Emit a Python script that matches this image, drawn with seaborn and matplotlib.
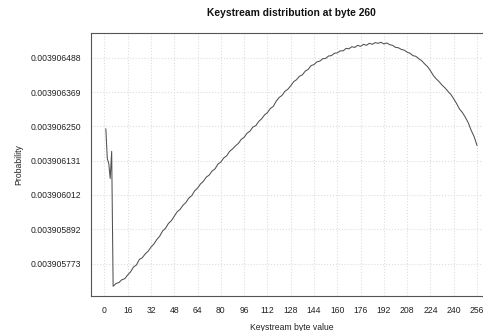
import numpy as np
import pandas as pd
import matplotlib
matplotlib.use('Agg')
import matplotlib.pyplot as plt
import seaborn as sns

# keystream byte values (R style, 1..256) and probability offsets from 1/256,
# read off the picture in units of 2^-23
byte_values = [1, 2, 3, 4, 5, 6] + list(range(8, 257, 2))
offsets = [-0.07, -0.94, -1.08, -1.52, -0.73, -4.66,
           -4.58, -4.55, -4.47, -4.44, -4.33, -4.24, -4.10, -4.04, -3.88, -3.83,
           -3.72, -3.64, -3.52, -3.43, -3.30, -3.20, -3.05, -2.97, -2.83, -2.75,
           -2.62, -2.49, -2.42, -2.30, -2.22, -2.09, -2.02, -1.88, -1.80, -1.68,
           -1.60, -1.48, -1.42, -1.30, -1.24, -1.10, -1.04, -0.92, -0.86, -0.73,
           -0.66, -0.57, -0.50, -0.38, -0.32, -0.20, -0.14, -0.02, 0.02, 0.14,
           0.22, 0.33, 0.40, 0.52, 0.58, 0.73, 0.84, 0.90, 1.02, 1.08,
           1.18, 1.30, 1.36, 1.46, 1.50, 1.61, 1.66, 1.77, 1.80, 1.88,
           1.90, 1.97, 1.98, 2.05, 2.06, 2.13, 2.14, 2.20, 2.20, 2.27,
           2.26, 2.32, 2.30, 2.36, 2.33, 2.39, 2.36, 2.42, 2.39, 2.44,
           2.42, 2.45, 2.40, 2.43, 2.38, 2.36, 2.30, 2.29, 2.24, 2.22,
           2.16, 2.13, 2.06, 2.04, 1.97, 1.91, 1.82, 1.74, 1.62, 1.48,
           1.38, 1.30, 1.20, 1.12, 1.02, 0.93, 0.80, 0.66, 0.50, 0.40,
           0.26, 0.10, -0.12, -0.30, -0.56]

x_ticks = list(range(0, 257, 16))
y_tick_steps = [-4, -3, -2, -1, 0, 1, 2]

unit = 2.0 ** -23
base = 1.0 / 256
df = pd.DataFrame({'byte': byte_values,
                   'prob': [base + o * unit for o in offsets]})

sns.set_style('white')
plt.rcParams['font.family'] = ['Liberation Sans', 'DejaVu Sans']

fig = plt.figure(figsize=(4.83, 3.31), dpi=100)
ax = fig.add_axes([0.1884, 0.1057, 0.830, 0.7961])

sns.lineplot(data=df, x='byte', y='prob', ax=ax, color='#505050', linewidth=0.75)

# R-like 4% padding on both axes
xr = max(byte_values) - min(byte_values)
ax.set_xlim(min(byte_values) - 0.04 * xr, max(byte_values) + 0.04 * xr)
pr = df['prob'].max() - df['prob'].min()
ax.set_ylim(df['prob'].min() - 0.04 * pr, df['prob'].max() + 0.04 * pr)

ax.set_xticks(x_ticks)
ax.set_yticks([base + s * unit for s in y_tick_steps])
ax.set_yticklabels([f'{base + s * unit:.9f}' for s in y_tick_steps])

ax.grid(True, color='#dddddd', linestyle=':', linewidth=0.8)
ax.set_axisbelow(True)
for sp in ax.spines.values():
    sp.set_color('#555555')
    sp.set_linewidth(0.8)
ax.tick_params(axis='both', direction='out', length=4, width=0.7,
               color='#555555', labelsize=6.2, labelcolor='#222222', pad=3)

ax.set_title('Keystream distribution at byte 260', fontsize=7.4,
             fontweight='bold', pad=12, color='#111111')
ax.set_xlabel('Keystream byte value', fontsize=6.2, color='#222222', labelpad=6)
ax.set_ylabel('Probability', fontsize=6.2, color='#222222', labelpad=5)

fig.savefig('out.png', dpi=100)
